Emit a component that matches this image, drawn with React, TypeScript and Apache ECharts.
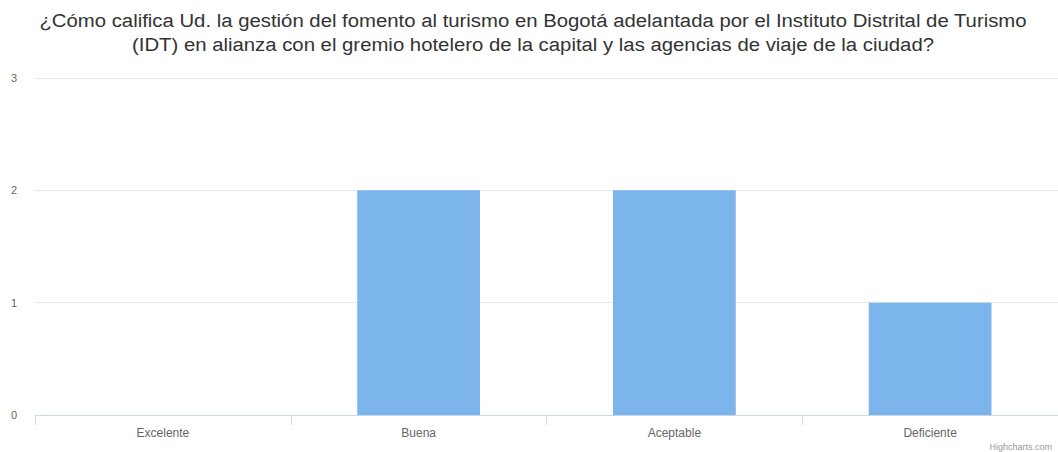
import React, { useEffect, useRef } from "react";
import * as echarts from "echarts";

const titleLines = [
  "¿Cómo califica Ud. la gestión del fomento al turismo en Bogotá adelantada por el Instituto Distrital de Turismo",
  "(IDT) en alianza con el gremio hotelero de la capital y las agencias de viaje de la ciudad?",
];
const categories = ["Excelente", "Buena", "Aceptable", "Deficiente"];
const values = [0, 2, 2, 1];
const yTicks = [0, 1, 2, 3];

const FONT = "Liberation Sans, Arial, sans-serif";

export default function App() {
  const ref = useRef<HTMLDivElement>(null);
  useEffect(() => {
    const chart = echarts.init(ref.current!, null, { renderer: "svg" });
    chart.setOption({
      animation: false,
      backgroundColor: "#ffffff",
      textStyle: { fontFamily: FONT },
      graphic: [
        ...titleLines.map((line, i) => ({
          type: "text",
          x: 533,
          y: 21 + i * 24,
          scaleX: 1.13,
          style: {
            text: line,
            fontSize: 18,
            fill: "#333333",
            fontFamily: FONT,
            textAlign: "center",
            textVerticalAlign: "middle",
          },
        })),
        {
          type: "text",
          right: 6,
          top: 442,
          style: {
            text: "Highcharts.com",
            fontSize: 9,
            fill: "#999999",
            fontFamily: FONT,
          },
        },
      ],
      grid: { left: 35, top: 78, width: 1024, bottom: 37, containLabel: false },
      xAxis: {
        type: "category",
        data: categories,
        axisLine: { lineStyle: { color: "#ccd6eb" } },
        axisTick: { show: true, alignWithLabel: false, length: 10, lineStyle: { color: "#ccd6eb" } },
        axisLabel: { color: "#666666", fontSize: 12, margin: 12 },
        splitLine: { show: false },
      },
      yAxis: {
        type: "value",
        min: yTicks[0],
        max: yTicks[yTicks.length - 1],
        interval: 1,
        axisLine: { show: false },
        axisTick: { show: false },
        axisLabel: { color: "#666666", fontSize: 11, margin: 18 },
        splitLine: { lineStyle: { color: "#e6e6e6" } },
      },
      series: [
        {
          type: "bar",
          data: values,
          barWidth: "48%",
          itemStyle: { color: "#7cb5ec" },
        },
      ],
    });
    return () => chart.dispose();
  }, []);
  return (
    <div
      ref={ref}
      style={{ position: "fixed", left: 0, top: 0, width: 1058, height: 452 }}
    />
  );
}
